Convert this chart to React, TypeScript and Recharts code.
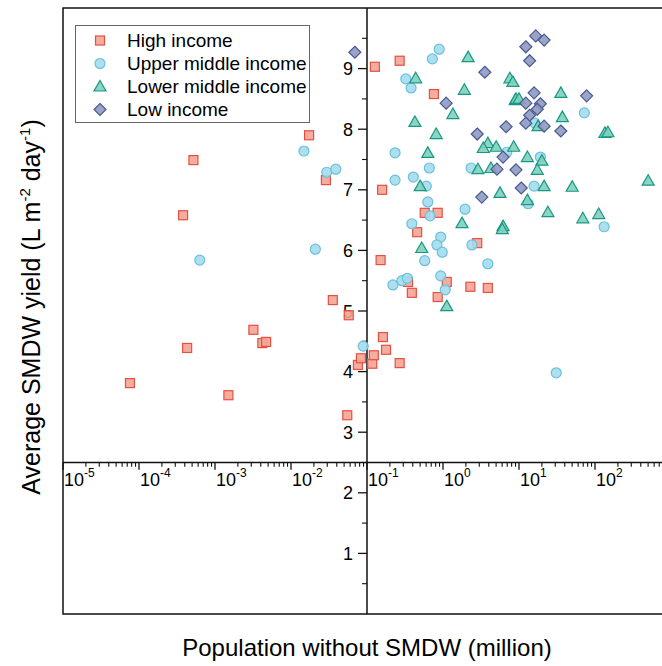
import React from 'react';
import {
  ScatterChart,
  Scatter,
  XAxis,
  YAxis,
  ReferenceLine,
  ReferenceDot,
  ReferenceArea,
  Legend,
} from 'recharts';

const FONT = '"Liberation Sans", Arial, Helvetica, sans-serif';

// population without SMDW (million), average yield (L m-2 day-1)
const highIncome = [
  { x: 7.6e-5, y: 3.81 }, { x: 5.2e-4, y: 7.49 }, { x: 3.8e-4, y: 6.58 },
  { x: 4.3e-4, y: 4.39 }, { x: 1.5e-3, y: 3.61 }, { x: 3.2e-3, y: 4.69 },
  { x: 4.2e-3, y: 4.47 }, { x: 4.7e-3, y: 4.49 }, { x: 0.0173, y: 7.9 },
  { x: 0.0288, y: 7.16 }, { x: 0.0355, y: 5.18 }, { x: 0.0575, y: 4.93 },
  { x: 0.055, y: 3.28 }, { x: 0.0759, y: 4.11 }, { x: 0.0832, y: 4.22 },
  { x: 0.117, y: 4.13 }, { x: 0.123, y: 4.27 }, { x: 0.162, y: 4.57 },
  { x: 0.178, y: 4.36 }, { x: 0.269, y: 4.14 }, { x: 0.127, y: 9.03 },
  { x: 0.269, y: 9.13 }, { x: 0.158, y: 7.0 }, { x: 0.151, y: 5.84 },
  { x: 0.347, y: 5.48 }, { x: 0.389, y: 5.3 }, { x: 0.457, y: 6.3 },
  { x: 0.759, y: 8.58 }, { x: 0.575, y: 6.62 }, { x: 0.851, y: 6.62 },
  { x: 2.82, y: 6.12 }, { x: 1.12, y: 5.48 }, { x: 0.851, y: 5.23 },
  { x: 2.29, y: 5.4 }, { x: 3.89, y: 5.38 },
];

const upperMiddle = [
  { x: 6.3e-4, y: 5.84 }, { x: 0.0148, y: 7.64 }, { x: 0.0209, y: 6.02 },
  { x: 0.0295, y: 7.29 }, { x: 0.0389, y: 7.34 }, { x: 0.0891, y: 4.42 },
  { x: 0.234, y: 7.61 }, { x: 0.234, y: 7.16 }, { x: 0.407, y: 7.21 },
  { x: 0.389, y: 6.44 }, { x: 0.219, y: 5.43 }, { x: 0.288, y: 5.5 },
  { x: 0.339, y: 5.54 }, { x: 0.891, y: 9.32 }, { x: 0.724, y: 9.16 },
  { x: 0.324, y: 8.83 }, { x: 0.38, y: 8.68 }, { x: 6.92, y: 7.62 },
  { x: 0.661, y: 7.36 }, { x: 2.34, y: 7.36 }, { x: 0.603, y: 7.06 },
  { x: 0.631, y: 6.8 }, { x: 1.95, y: 6.68 }, { x: 0.676, y: 6.57 },
  { x: 0.933, y: 6.22 }, { x: 0.832, y: 6.09 }, { x: 0.977, y: 5.97 },
  { x: 2.4, y: 6.09 }, { x: 0.575, y: 5.83 }, { x: 3.89, y: 5.78 },
  { x: 0.933, y: 5.58 }, { x: 1.07, y: 5.35 }, { x: 16.2, y: 8.1 },
  { x: 72.4, y: 8.27 }, { x: 19.1, y: 7.54 }, { x: 15.8, y: 7.06 },
  { x: 13.2, y: 6.77 }, { x: 132, y: 6.39 }, { x: 30.9, y: 3.98 },
];

const lowerMiddle = [
  { x: 2.14, y: 9.19 }, { x: 0.437, y: 8.84 }, { x: 1.91, y: 8.65 },
  { x: 1.35, y: 8.25 }, { x: 7.59, y: 8.84 }, { x: 8.32, y: 8.78 },
  { x: 8.91, y: 8.48 }, { x: 0.427, y: 8.12 }, { x: 0.813, y: 7.92 },
  { x: 3.89, y: 7.77 }, { x: 3.39, y: 7.69 }, { x: 5.01, y: 7.71 },
  { x: 8.51, y: 7.71 }, { x: 0.631, y: 7.61 }, { x: 2.88, y: 7.34 },
  { x: 4.27, y: 7.36 }, { x: 0.501, y: 7.06 }, { x: 5.62, y: 6.95 },
  { x: 1.78, y: 6.45 }, { x: 6.17, y: 6.4 }, { x: 6.03, y: 6.35 },
  { x: 0.525, y: 6.04 }, { x: 1.12, y: 5.08 }, { x: 35.5, y: 8.6 },
  { x: 9.12, y: 8.5 }, { x: 10.0, y: 8.5 }, { x: 17.8, y: 8.05 },
  { x: 37.2, y: 8.2 }, { x: 135, y: 7.94 }, { x: 148, y: 7.95 },
  { x: 12.9, y: 7.54 }, { x: 20.0, y: 7.48 }, { x: 17.4, y: 7.33 },
  { x: 21.4, y: 7.06 }, { x: 50.1, y: 7.05 }, { x: 501, y: 7.15 },
  { x: 12.9, y: 6.83 }, { x: 24.0, y: 6.63 }, { x: 69.2, y: 6.53 },
  { x: 112, y: 6.6 },
];

const lowIncome = [
  { x: 0.0692, y: 9.27 }, { x: 3.55, y: 8.94 }, { x: 1.1, y: 8.43 },
  { x: 6.76, y: 8.04 }, { x: 2.82, y: 7.92 }, { x: 6.17, y: 7.54 },
  { x: 5.13, y: 7.34 }, { x: 9.12, y: 7.33 }, { x: 3.24, y: 6.88 },
  { x: 16.6, y: 9.54 }, { x: 21.4, y: 9.47 }, { x: 12.3, y: 9.36 },
  { x: 13.8, y: 9.13 }, { x: 15.8, y: 8.6 }, { x: 77.6, y: 8.55 },
  { x: 12.3, y: 8.43 }, { x: 19.1, y: 8.42 }, { x: 17.4, y: 8.33 },
  { x: 13.8, y: 8.23 }, { x: 12.3, y: 8.1 }, { x: 21.4, y: 8.05 },
  { x: 35.5, y: 7.97 }, { x: 10.7, y: 7.03 },
];

// axis ticks
const xDecades = [-5, -4, -3, -2, -1, 0, 1, 2];
const xMinorMult = [2, 3, 4, 5, 6, 7, 8, 9];
const yMajor = [1, 2, 3, 4, 5, 6, 7, 8, 9];
const yMinor = [0.5, 1.5, 2.5, 3.5, 4.5, 5.5, 6.5, 7.5, 8.5, 9.5];

const X_CROSS = 0.1;
const Y_CROSS = 2.5;

const colors = {
  high: { fill: '#F5A497', stroke: '#E4513F' },
  upper: { fill: '#A5DCEC', stroke: '#68C1DD' },
  lower: { fill: '#7FCFBF', stroke: '#16997F' },
  low: { fill: '#8E9AC2', stroke: '#4A5A90' },
};

const drawMarker = (kind: string, cx: number, cy: number) => {
  const c = (colors as any)[kind];
  const common = { fill: c.fill, stroke: c.stroke, strokeWidth: 1.2, fillOpacity: 0.9 };
  if (kind === 'high') return <rect x={cx - 4.5} y={cy - 4.5} width={9} height={9} {...common} />;
  if (kind === 'upper') return <circle cx={cx} cy={cy} r={5} {...common} />;
  if (kind === 'lower')
    return <polygon points={`${cx},${cy - 6} ${cx + 6},${cy + 4.5} ${cx - 6},${cy + 4.5}`} {...common} />;
  return <polygon points={`${cx},${cy - 6} ${cx + 6},${cy} ${cx},${cy + 6} ${cx - 6},${cy}`} {...common} />;
};

const series = [
  { key: 'high', name: 'High income', data: highIncome },
  { key: 'upper', name: 'Upper middle income', data: upperMiddle },
  { key: 'lower', name: 'Lower middle income', data: lowerMiddle },
  { key: 'low', name: 'Low income', data: lowIncome },
];

const center = (vb: any) => ({ cx: vb.x + vb.width / 2, cy: vb.y + vb.height / 2 });

const renderLegend = () => (
  <div
    style={{
      width: 233,
      height: 96,
      border: '1px solid #666',
      background: '#fff',
      fontFamily: FONT,
      fontSize: 19,
      color: '#000',
      boxSizing: 'content-box',
    }}
  >
    {series.map((s, i) => (
      <div key={s.key} style={{ position: 'absolute', left: 0, top: 4 + i * 23, height: 23, display: 'flex', alignItems: 'center' }}>
        <svg width={50} height={23} style={{ display: 'block' }}>
          {drawMarker(s.key, 25, 11.5)}
        </svg>
        <span style={{ marginLeft: 2, lineHeight: '23px' }}>{s.name}</span>
      </div>
    ))}
  </div>
);

export default function App() {
  const xMinor: number[] = [];
  xDecades.forEach((d) => xMinorMult.forEach((m) => xMinor.push(m * Math.pow(10, d))));

  return (
    <div style={{ position: 'absolute', left: 0, top: 0, width: 662, height: 666, overflow: 'hidden', background: '#fff' }}>
      <ScatterChart width={680} height={666} margin={{ top: 8, right: 9, bottom: 52, left: 63 }}>
        <XAxis dataKey="x" type="number" scale="log" domain={[1e-5, 1e3]} allowDataOverflow hide />
        <YAxis dataKey="y" type="number" domain={[0, 10]} allowDataOverflow hide />

        <ReferenceArea x1={1e-5} x2={1e3} y1={0} y2={10} fill="none" stroke="#111" strokeWidth={1.5} />
        <ReferenceLine x={X_CROSS} stroke="#111" strokeWidth={1.5} />
        <ReferenceLine y={Y_CROSS} stroke="#111" strokeWidth={1.5} />

        {xDecades.map((d) => (
          <ReferenceLine
            key={`xM${d}`}
            segment={[{ x: Math.pow(10, d), y: Y_CROSS }, { x: Math.pow(10, d), y: Y_CROSS - 0.12 }]}
            stroke="#111"
            strokeWidth={1.3}
          />
        ))}
        {xMinor.map((v) => (
          <ReferenceLine
            key={`xm${v}`}
            segment={[{ x: v, y: Y_CROSS }, { x: v, y: Y_CROSS - 0.07 }]}
            stroke="#111"
            strokeWidth={1.1}
          />
        ))}
        {yMajor.map((v) => (
          <ReferenceLine
            key={`yM${v}`}
            segment={[{ x: X_CROSS, y: v }, { x: Math.pow(10, -1 - 9 / 76), y: v }]}
            stroke="#111"
            strokeWidth={1.3}
          />
        ))}
        {yMinor.map((v) => (
          <ReferenceLine
            key={`ym${v}`}
            segment={[{ x: X_CROSS, y: v }, { x: Math.pow(10, -1 - 5 / 76), y: v }]}
            stroke="#111"
            strokeWidth={1.1}
          />
        ))}

        {xDecades.map((d) => (
          <ReferenceDot
            key={`xl${d}`}
            x={Math.pow(10, d)}
            y={Y_CROSS}
            r={1}
            fill="none"
            stroke="none"
            label={(p: any) => {
              const { cx, cy } = center(p.viewBox);
              return (
                <text x={cx + 1} y={cy + 23} fontFamily={FONT} fontSize={18} fill="#000">
                  <tspan>10</tspan>
                  <tspan dy={-9} fontSize={12}>{d}</tspan>
                </text>
              );
            }}
          />
        ))}
        {yMajor.map((v) => (
          <ReferenceDot
            key={`yl${v}`}
            x={X_CROSS}
            y={v}
            r={1}
            fill="none"
            stroke="none"
            label={(p: any) => {
              const { cx, cy } = center(p.viewBox);
              return (
                <text x={cx - 14} y={cy + 6.5} textAnchor="end" fontFamily={FONT} fontSize={18} fill="#000">
                  {v}
                </text>
              );
            }}
          />
        ))}

        {series.map((s) => (
          <Scatter
            key={s.key}
            name={s.name}
            data={s.data}
            fill={(colors as any)[s.key].fill}
            isAnimationActive={false}
            shape={(p: any) => drawMarker(s.key, p.cx, p.cy)}
          />
        ))}

        <Legend
          layout="vertical"
          align="center"
          verticalAlign="middle"
          content={renderLegend}
          wrapperStyle={{ left: 75, top: 25, width: 235, height: 98 }}
        />
      </ScatterChart>

      <div
        style={{
          position: 'absolute',
          left: 367,
          top: 634,
          transform: 'translateX(-50%)',
          whiteSpace: 'nowrap',
          fontFamily: FONT,
          fontSize: 24,
          color: '#000',
        }}
      >
        Population without SMDW (million)
      </div>
      <div
        style={{
          position: 'absolute',
          left: 31,
          top: 307,
          transform: 'translate(-50%, -50%) rotate(-90deg)',
          whiteSpace: 'nowrap',
          fontFamily: FONT,
          fontSize: 25,
          color: '#000',
        }}
      >
        Average SMDW yield (L m<sup style={{ fontSize: 15 }}>-2</sup> day<sup style={{ fontSize: 15 }}>-1</sup>)
      </div>
    </div>
  );
}
